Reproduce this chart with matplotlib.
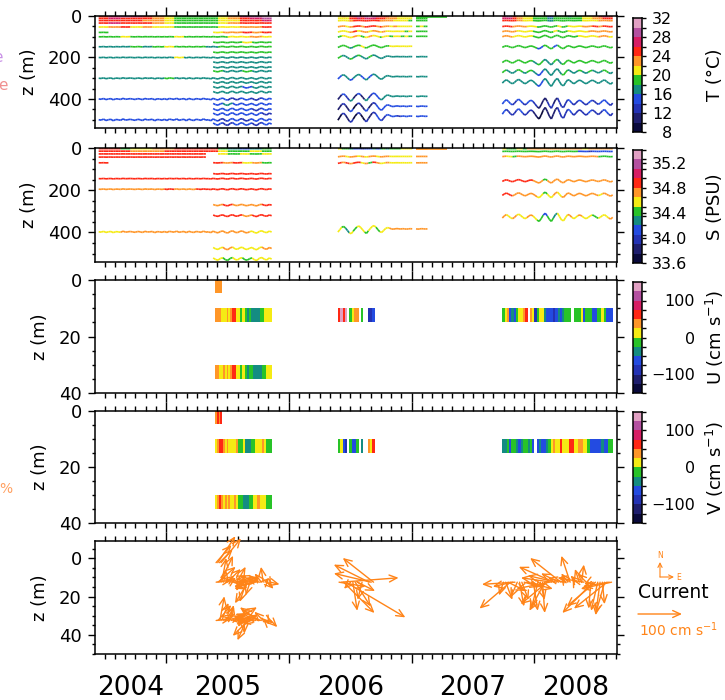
import numpy as np
import matplotlib
matplotlib.use("Agg")
import matplotlib.pyplot as plt
from matplotlib.colors import ListedColormap, BoundaryNorm
from matplotlib.collections import LineCollection
from matplotlib.ticker import MultipleLocator
from matplotlib.transforms import blended_transform_factory

nan = np.nan
plt.rcParams['font.family'] = ['DejaVu Sans']

# ====================== DATA ======================
years = [2004, 2005, 2006, 2007, 2008]
x_range = [2004.42, 2008.675]

# colour scales
T_levels = [8, 10, 12, 14, 16, 18, 20, 22, 24, 26, 28, 30, 32]
T_ticks = [8, 12, 16, 20, 24, 28, 32]
S_levels = [33.6, 33.75, 33.9, 34.05, 34.2, 34.35, 34.5, 34.65, 34.8, 34.95, 35.1, 35.25, 35.4]
S_ticks = [33.6, 34.0, 34.4, 34.8, 35.2]
UV_levels = [-150, -125, -100, -75, -50, -25, 0, 25, 50, 75, 100, 125, 150]
UV_ticks = [-100, 0, 100]

# deployments (decimal years)
span_2005 = [2004.45, 2005.86]
span_2005_dense = [2005.383, 2005.86]
span_2006 = [2006.40, 2007.13]
span_2006_top = [2007.04, 2007.29]
span_2008 = [2007.74, 2008.64]

# mooring vertical excursion (m, referred to 500 m)
disp_2005 = [0, 2, -3, 4, 0, -2, 5, -1, 0, 3, -4, 2, 0, -2, 1, 3, -2, 0, 4, -3,
             1, 0, -2, 5, -1, 0, 3, -2, 4, -3, 0, 2, -4, 3, 0, -2, 5, -3, 1, 4,
             -2, 0, 3, -4, 2, 0, 5,
             -4, 3, 6, -2, -5, 4, 7, -2, -6, 3, 5, -3, -5, 4, 6, -1, -4, 5, 7,
             -3, -6, 2, 5, -4, 1]
disp_2005_dense = [-4, 3, 6, -2, -5, 4, 7, -2, -6, 3, 5, -3, -5, 4, 6, -1, -4, 5,
                   7, -3, -6, 2, 5, -4, 1]
disp_2006 = [20, 5, -10, -15, -5, 10, 25, 30, 15, 0, -12, -18, -8, 6, 20, 28, 12,
             -2, -15, -20, -10, 5, 18, 22, 10, -2, -8, -5, 0, 2, 0, -2, 0, 1, -1,
             0, 2, 0, -1, 0, 1, 0, 2, 0, -1, 0, 1, 0]
disp_2006_top = [0, 0, 0, 0, 0, 0, 0]
disp_2008 = [10, -5, -15, -5, 8, 15, 5, -10, -18, -8, 5, 15, 8, -5, -12, -5, 10,
             25, 35, 15, -10, -25, -5, 20, 35, 10, -15, -25, 0, 25, 30, 5, -15,
             -10, 5, 15, 5, -8, -12, -3, 8, 15, 6, -5, -12, -6, 5, 12, 4, -8,
             -14, -2, 10, 18, 5]

# ---- temperature (deg C), keyed by nominal depth (m)
T_2005 = {
    3:   [25, 27, 29, 27, 25, 23, 21, 19, 19, 19, 19, 21, 23, 27, 29, 31],
    12:  [25, 27, 25, 25, 25, 23, 21, 19, 19, 19, 19, 21, 23, 25, 27, 29],
    22:  [25, 25, 25, 25, 23, 23, 21, 19, 19, 19, 19, 21, 21, 25, 25, 27],
    34:  [25, 27, 25, 25, 25, 23, 21, 19, 19, 19, 19, 21, 23, 25, 25, 25],
    53:  [21, 23, 25, 21, 23, 21, 21, 19, 19, 19, 19, 21, 21, 23, 23, 25],
    79:  [19, nan, nan, nan, nan, nan, nan, nan, nan, nan, nan, nan, nan, nan, nan, nan],
    100: [19, 19, 21, 19, 19, 19, 19, 21, 19, 19, 19, 19, 21, 21, 23, 21],
    148: [17, 17, 17, 19, 17, 19, 21, 19, 19, 19, 17, 19, 19, 19, 19, 19],
    200: [17, 17, 17, 17, 17, 17, 17, 21, 17, 17, 17, 17, 17, 17, 17, 17],
    300: [17, 17, 17, 17, 17, 17, 19, 17, 17, 17, 17, 17, 17, 17, 17, 17],
    400: [15, 15, 15, 15, 15, 15, 15, 15, 15, 15, 15, 15, 13, 15, 13, 15],
    500: [15, 15, 15, 15, 15, 15, 15, 15, 15, 15, 15, 13, 15, 13, 15, 15],
}
T_2005_dense = {
    79:  [21, 23, 23, 25, 23, 25],
    127: [19, 19, 19, 21, 19, 19],
    175: [19, 19, 19, 19, 19, 19],
    223: [17, 17, 17, 17, 17, 17],
    247: [17, 17, 17, 17, 17, 17],
    266: [19, 17, 17, 19, 17, 17],
    320: [17, 17, 17, 17, 17, 17],
    343: [17, 17, 17, 15, 17, 17],
    367: [17, 17, 17, 17, 17, 17],
    425: [15, 17, 15, 15, 15, 15],
    450: [15, 15, 15, 15, 13, 15],
    472: [15, 15, 15, 15, 15, 13],
    520: [15, 13, 15, 15, 13, 15],
}
T_2006 = {
    3:   [21, 23, 21, 25, 27, 29, 27, 29, 31, 29, 27, 25, 25, 25, 23, 23, 21, 21, 21, 21, nan, 19, 19, 19],
    12:  [21, 21, 21, 25, 25, 27, 25, 27, 27, 27, 25, 25, 25, 23, 23, 23, 21, 21, 21, 21, nan, 19, 19, 19],
    22:  [21, 21, 21, 23, 25, 25, 25, 25, 25, 25, 25, 23, 23, 23, 23, 21, 21, 21, 21, 19, nan, 19, 19, 19],
    50:  [23, 23, 21, 23, 25, 25, 23, 25, 25, 25, 23, 25, 23, 23, 21, 23, 21, 21, 21, 21, nan, 19, 21, 19],
    74:  [21, 21, 21, 23, 25, 21, 23, 23, 21, 23, 23, 21, 23, 21, 21, 21, 21, 21, 19, 21, nan, 19, 19, 19],
    98:  [19, 21, 21, 21, 23, 21, 19, 21, 23, 21, 21, 19, 21, 21, 19, 21, 21, 19, 21, 19, nan, 19, 19, 19],
    146: [19, 19, 19, 17, 19, 19, 21, 19, 19, 19, 19, 19, 19, 19, 21, 21, 21, 21, 21, 21, nan, nan, nan, nan],
    196: [19, 17, 17, 19, 17, 19, 17, 17, 19, 17, 17, 17, 17, 17, 17, 17, 17, 17, 17, 17, nan, 17, 17, 17],
    292: [15, 17, 17, 15, 17, 17, 15, 17, 15, 17, 17, 17, 17, 17, 17, 17, 17, 17, 17, 17, nan, 17, 17, 17],
    387: [11, 15, 13, 17, 11, 15, 11, 17, 13, 15, 15, 17, 17, 17, 17, 17, 17, 17, 17, 17, nan, 17, 17, 17],
    435: [11, 13, 11, 15, 9, 13, 11, 15, 11, 13, 15, 15, 15, 15, 15, 15, 15, 15, 15, 15, nan, 15, 15, 15],
    483: [9, 13, 11, 13, 9, 13, 9, 13, 11, 13, 15, 15, 13, 15, 15, 15, 13, 15, 15, 15, nan, 15, 15, 15],
}
T_2006_top = {3: [19, 19, 19, 19, 19, 19]}
T_2008 = {
    3:   [27, 29, 25, 23, 21, 21, 19, 19, 19, 15, 19, 19, 19, 17, 19, 19, 21, 21, 23, 25, 27, 25],
    12:  [27, 27, 25, 23, 21, 21, 19, 19, 19, 17, 19, 19, 19, 19, 19, 19, 21, 21, 23, 23, 25, 25],
    22:  [25, 25, 25, 23, 21, 21, 19, 19, 19, 17, 19, 19, 19, 19, 19, 19, 21, 21, 21, 23, 23, 23],
    50:  [25, 25, 23, 23, 23, 21, 21, 19, 19, 19, 19, 21, 19, 21, 21, 21, 23, 23, 25, 23, 25, 25],
    74:  [23, 23, 23, 21, 21, 21, 19, 19, 19, 19, 21, 19, 19, 21, 21, 21, 21, 23, 23, 23, 23, 23],
    98:  [23, 23, 21, 21, 21, 21, 19, 19, 19, 19, 19, 19, 19, 19, 19, 21, 21, 21, 21, 23, 23, 21],
    148: [19, 19, 19, 19, 19, 19, 19, 15, 19, 19, 15, 19, 19, 19, 19, 19, 19, 19, 19, 19, 19, 19],
    220: [19, 19, 19, 19, 19, 19, 17, 19, 17, 17, 19, 17, 19, 19, 19, 19, 19, 19, 19, 19, 19, 19],
    268: [19, 17, 17, 19, 17, 19, 17, 15, 17, 17, 17, 17, 19, 17, 17, 19, 17, 19, 17, 17, 19, 17],
    317: [17, 17, 17, 17, 17, 17, 17, 15, 17, 17, 17, 17, 17, 17, 17, 17, 17, 17, 17, 17, 17, 17],
    416: [15, 15, 13, 15, 13, 15, 13, 11, 11, 13, 11, 13, 13, 15, 13, 15, 13, 15, 13, 15, 15, 13],
    464: [15, 13, 13, 15, 13, 13, 11, 9, 11, 11, 11, 13, 13, 15, 13, 13, 13, 15, 13, 13, 15, 13],
}

# ---- salinity (PSU)
S_2005 = {
    3:   [34.9, 34.9, 34.4, 34.6, 34.6, 34.7, 34.7, 34.9, 34.9, 34.9, 34.9, 34.4, 34.3, 34.1, 34.3, 34.4],
    15:  [34.9, 34.9, 34.9, 34.7, 34.7, 34.7, 34.9, 34.9, 34.9, 34.9, 34.9, 34.6, 34.4, 34.4, 34.6, 34.4],
    28:  [34.9, 34.9, 34.9, 34.9, 34.9, 34.9, 34.9, 34.9, 34.9, 34.9, nan, 34.6, 34.4, 34.6, 34.4, 34.6],
    43:  [34.9, 34.9, 34.9, 34.9, 34.9, 34.9, 34.9, 34.9, 34.9, 34.9, nan, nan, nan, nan, nan, nan],
    70:  [34.9, nan, nan, nan, nan, nan, nan, nan, nan, nan, nan, nan, nan, nan, nan, nan],
    145: [34.9, 34.9, 34.9, 34.9, 34.9, 34.9, 34.9, 34.9, 34.9, 34.9, 34.9, 34.9, 34.9, 34.9, 34.9, 34.9],
    195: [34.7, 34.7, 34.7, 34.7, 34.7, 34.7, 34.9, 34.7, 34.7, 34.9, 34.9, 34.9, 34.9, 34.9, 34.9, 34.9],
    397: [34.6, 34.6, 34.7, 34.7, 34.7, 34.7, 34.7, 34.7, 34.7, 34.7, 34.7, 34.7, 34.7, 34.7, 34.6, 34.6],
}
S_2005_dense = {
    70:  [34.9, 34.7, 34.9, 34.6, 34.7, 34.4],
    122: [34.9, 34.9, 34.9, 34.9, 34.9, 34.9],
    270: [34.7, 34.9, 34.7, 34.7, 34.7, 34.9],
    320: [34.9, 34.9, 34.9, 34.7, 34.9, 34.9],
    475: [34.6, 34.7, 34.6, 34.6, 34.6, 34.7],
    525: [34.6, 34.4, 34.6, 34.4, 34.6, 34.6],
}
S_2006 = {
    3:   [34.6, 34.4, 34.4, 34.3, 34.1, 34.1, 34.0, 34.1, 34.1, 34.3, 34.1, 34.3, 34.4, 34.3, 34.4, 34.4, 34.4, 34.6, 34.6, 34.6, nan, 34.7, 34.7, 34.7],
    40:  [34.7, 34.7, 34.6, 34.7, 34.7, 34.6, 34.7, 34.6, 34.7, 34.7, 34.6, 34.7, 34.7, 34.7, 34.6, 34.6, 34.6, 34.6, 34.6, 34.6, nan, 34.7, 34.7, 34.7],
    70:  [34.9, 34.7, 34.9, 34.7, 34.9, 34.9, 34.6, 34.7, 34.4, 34.9, 34.7, 34.6, 34.6, 34.7, 34.6, 34.6, 34.6, 34.6, 34.6, 34.6, nan, 34.7, 34.7, 34.7],
    383: [34.6, 34.4, 34.3, 34.6, 34.4, 34.6, 34.6, 34.4, 34.6, 34.6, 34.4, 34.6, 34.6, 34.6, 34.7, 34.7, 34.7, 34.7, 34.7, 34.7, nan, 34.7, 34.7, 34.7],
}
S_2006_top = {3: [34.7, 34.7, 34.7, 34.7, 34.7, 34.7]}
S_2008 = {
    3:   [34.6, 34.4, 34.4, 34.6, 34.4, 34.7, 34.7, 34.7, 34.7, 34.7, 34.7, 34.7, 34.7, 34.7, 34.7, 34.7, 34.6, 34.7, 34.7, 34.7, 34.7, 34.7],
    16:  [34.4, 34.4, 34.4, 34.4, 34.4, 34.4, 34.4, 34.4, 34.4, 34.4, 34.4, 34.4, 34.4, 34.4, 34.4, 34.1, 34.1, 34.0, 34.1, 34.1, 34.1, 34.1],
    40:  [34.7, 34.6, 34.4, 34.7, 34.7, 34.7, 34.7, 34.7, 34.7, 34.7, 34.7, 34.7, 34.7, 34.7, 34.7, 34.7, 34.7, 34.7, 34.7, 34.4, 34.4, 34.4],
    155: [34.9, 34.9, 34.9, 34.9, 34.9, 34.9, 34.7, 34.7, 34.4, 34.7, 34.7, 34.7, 34.7, 34.7, 34.7, 34.7, 34.7, 34.7, 34.7, 34.7, 34.7, 34.7],
    220: [34.9, 34.9, 34.7, 34.7, 34.7, 34.7, 34.7, 34.6, 34.4, 34.6, 34.7, 34.6, 34.7, 34.7, 34.7, 34.7, 34.7, 34.7, 34.7, 34.6, 34.7, 34.7],
    325: [34.7, 34.6, 34.7, 34.6, 34.6, 34.7, 34.6, 34.4, 34.1, 34.4, 34.3, 34.6, 34.6, 34.7, 34.6, 34.7, 34.6, 34.6, 34.4, 34.6, 34.6, 34.7],
}

# ---- currents (cm/s)
uv_span_2005_surf = [2005.40, 2005.455]
uv_span_2005 = [2005.40, 2005.86]
uv_span_2006 = [2006.40, 2006.70]
uv_span_2008 = [2007.74, 2008.64]
bin_surf = [0, 4.6]
bin_upper = [10, 15]
bin_lower = [30, 35]

U_2005_surf = [35, 40, 30, 45]
V_2005_surf = [40, 60, 30, 55]
U_2005_upper = [35, 40, 30, 10, 5, 20, 30, 15, 35, 60, 55, 20, 10, -10, 10, 5, -15, -30,
                -10, -40, -45, -35, -40, -30, -15, -5, 10, 15, 5, 20]
V_2005_upper = [5, 35, 60, 55, 30, 15, 30, 10, 15, 5, 10, 35, -10, -20, -15, 0, -45, -48,
                -30, -15, -10, 5, 15, 10, 20, 35, 10, -15, -10, -5]
U_2005_lower = [35, 30, 10, 15, 25, 20, 30, 10, 35, 55, 50, 20, 10, -5, 15, 0, -20, -35,
                -15, -25, -45, -45, -40, -40, -35, -20, -5, 5, 10, 15]
V_2005_lower = [5, 35, 55, 40, 15, 30, 10, 35, 15, 10, 30, 5, -10, -15, -5, -30, -45, -35,
                -10, -5, 10, 15, 30, 25, 10, 20, 5, -10, -5, -15]
U_2006_upper = [60, 130, 70, 135, nan, -15, 10, 35, 40, nan, -10, nan, nan, -80, -85, -70]
V_2006_upper = [-10, 10, -70, -80, nan, -15, -65, -55, -20, nan, -40, nan, nan, 40, 20, 55]
U_2008_upper = [-10, 15, 40, -70, -45, -75, -15, 10, 15, 35, 60, nan, 30, 10, -90, -15,
                10, 5, -35, -60, -75, -70, -80, -65, -40, -70, -35, -10, -15, -20, nan,
                -5, -15, -10, 5, -60, -20, -10, -5, -70, -65, -15, -10, 5, -20, -75, -60, -70]
V_2008_upper = [-30, -40, -20, -60, -10, -5, -35, -55, -40, -10, -15, -30, -10, -65, nan,
                -60, -40, -70, -65, -50, -15, 10, 35, 15, 20, 55, 10, 15, 20, 60, 65, 10,
                15, 30, 40, 10, 20, -5, -60, -70, -55, -65, -75, -50, -70, -60, -10, -15]

# ====================== STYLE ======================
PALETTE = ['#0a0a3c', '#1e1e6e', '#2332b4', '#234be1', '#148c82', '#28c328',
           '#f5eb14', '#ff9628', '#ff2814', '#d71e64', '#b450a0', '#e1a0c3']
CMAP = ListedColormap(PALETTE)
ORANGE = '#ff8418'
W, H = 725, 700
fig = plt.figure(figsize=(W / 100, H / 100), dpi=100)


def rect(l, t, r, b):
    return [l / W, 1 - b / H, (r - l) / W, (b - t) / H]


panel_rows = [(16, 128), (148, 262), (280, 393), (411, 523), (541, 654)]
cbar_rows = [(18, 132), (150, 263), (282, 393), (412, 523)]
axes = [fig.add_axes(rect(95, t, 617, b)) for t, b in panel_rows]
caxes = [fig.add_axes(rect(633, t, 642, b)) for t, b in cbar_rows]

normT = BoundaryNorm(T_levels, CMAP.N)
normS = BoundaryNorm(S_levels, CMAP.N)
normUV = BoundaryNorm(UV_levels, CMAP.N)


def draw_records(ax, span, disp, records, norm, zref=500.0):
    disp = np.asarray(disp, float)
    t = np.linspace(span[0], span[1], len(disp))
    mid = 0.5 * (t[1:] + t[:-1])
    frac = (mid - span[0]) / (span[1] - span[0])
    for z0, vals in records.items():
        vals = np.asarray(vals, float)
        z = z0 + disp * (z0 / zref)
        pts = np.column_stack([t, z])
        segs = np.stack([pts[:-1], pts[1:]], axis=1)
        idx = np.minimum((frac * len(vals)).astype(int), len(vals) - 1)
        c = vals[idx]
        ok = np.isfinite(c)
        lc = LineCollection(segs[ok], cmap=CMAP, norm=norm, linewidths=1.2)
        lc.set_array(c[ok])
        ax.add_collection(lc)


def draw_bar(ax, span, zbin, vals, norm):
    v = np.ma.masked_invalid(np.asarray(vals, float))
    xe = np.linspace(span[0], span[1], len(v) + 1)
    ax.pcolormesh(xe, zbin, v[None, :], cmap=CMAP, norm=norm, shading='flat')


def style_axis(ax, ylim, ymaj, ymin):
    ax.set_xlim(x_range)
    ax.set_ylim(ylim)
    ax.xaxis.set_major_locator(MultipleLocator(1))
    ax.xaxis.set_minor_locator(MultipleLocator(1 / 12))
    ax.yaxis.set_major_locator(MultipleLocator(ymaj))
    ax.yaxis.set_minor_locator(MultipleLocator(ymin))
    ax.tick_params(axis='x', which='both', direction='out', top=True, bottom=True,
                   labelbottom=False, width=1.0)
    ax.tick_params(axis='x', which='major', length=6.5)
    ax.tick_params(axis='x', which='minor', length=3.5)
    ax.tick_params(axis='y', which='both', direction='out', left=True, right=True,
                   width=1.0, labelsize=13, pad=4.5)
    ax.tick_params(axis='y', which='major', length=5)
    ax.tick_params(axis='y', which='minor', length=2.5)
    for s in ax.spines.values():
        s.set_linewidth(1.1)
    ax.set_ylabel('z (m)', fontsize=13, labelpad=7)


# ---- panel 1: temperature
ax = axes[0]
draw_records(ax, span_2005, disp_2005, T_2005, normT)
draw_records(ax, span_2005_dense, disp_2005_dense, T_2005_dense, normT)
draw_records(ax, span_2006, disp_2006, T_2006, normT)
draw_records(ax, span_2006_top, disp_2006_top, T_2006_top, normT)
draw_records(ax, span_2008, disp_2008, T_2008, normT)
style_axis(ax, (540, 0), 200, 50)

# ---- panel 2: salinity
ax = axes[1]
draw_records(ax, span_2005, disp_2005, S_2005, normS)
draw_records(ax, span_2005_dense, disp_2005_dense, S_2005_dense, normS)
draw_records(ax, span_2006, disp_2006, S_2006, normS)
draw_records(ax, span_2006_top, disp_2006_top, S_2006_top, normS)
draw_records(ax, span_2008, disp_2008, S_2008, normS)
style_axis(ax, (540, 0), 200, 50)

# ---- panel 3: U
ax = axes[2]
draw_bar(ax, uv_span_2005_surf, bin_surf, U_2005_surf, normUV)
draw_bar(ax, uv_span_2005, bin_upper, U_2005_upper, normUV)
draw_bar(ax, uv_span_2005, bin_lower, U_2005_lower, normUV)
draw_bar(ax, uv_span_2006, bin_upper, U_2006_upper, normUV)
draw_bar(ax, uv_span_2008, bin_upper, U_2008_upper, normUV)
style_axis(ax, (40, 0), 20, 5)

# ---- panel 4: V
ax = axes[3]
draw_bar(ax, uv_span_2005_surf, bin_surf, V_2005_surf, normUV)
draw_bar(ax, uv_span_2005, bin_upper, V_2005_upper, normUV)
draw_bar(ax, uv_span_2005, bin_lower, V_2005_lower, normUV)
draw_bar(ax, uv_span_2006, bin_upper, V_2006_upper, normUV)
draw_bar(ax, uv_span_2008, bin_upper, V_2008_upper, normUV)
style_axis(ax, (40, 0), 20, 5)

# ---- panel 5: current vectors
ax5 = axes[4]
style_axis(ax5, (50, -9), 20, 5)
K = 0.44  # display pixels per cm/s
ARROW = dict(arrowstyle='->,head_length=0.55,head_width=0.25', color=ORANGE,
             lw=1.0, shrinkA=0, shrinkB=0)


def draw_vectors(ax, span, zbin, u, v):
    u = np.asarray(u, float)
    v = np.asarray(v, float)
    xe = np.linspace(span[0], span[1], len(u) + 1)
    tc = 0.5 * (xe[1:] + xe[:-1])
    z0 = 0.5 * (zbin[0] + zbin[1])
    inv = ax.transData.inverted()
    for t, uu, vv in zip(tc, u, v):
        if not (np.isfinite(uu) and np.isfinite(vv)):
            continue
        p0 = ax.transData.transform((t, z0))
        tip = inv.transform(p0 + K * np.array([uu, vv]))
        ax.annotate('', xy=tip, xytext=(t, z0), arrowprops=ARROW,
                    annotation_clip=False)


draw_vectors(ax5, uv_span_2005_surf, bin_surf, U_2005_surf, V_2005_surf)
draw_vectors(ax5, uv_span_2005, bin_upper, U_2005_upper, V_2005_upper)
draw_vectors(ax5, uv_span_2005, bin_lower, U_2005_lower, V_2005_lower)
draw_vectors(ax5, uv_span_2006, bin_upper, U_2006_upper, V_2006_upper)
draw_vectors(ax5, uv_span_2008, bin_upper, U_2008_upper, V_2008_upper)

# year labels centred in each year interval
tr = blended_transform_factory(ax5.transData, fig.transFigure)
for y in years:
    lo, hi = max(y, x_range[0]), min(y + 1, x_range[1])
    ax5.text(0.5 * (lo + hi), 1 - 688 / H, str(y), transform=tr, ha='center',
             va='center', fontsize=19)


# ---- colour bars
def draw_cbar(cax, levels, ticks, fmt, norm, right_px):
    levels = np.asarray(levels, float)
    centers = 0.5 * (levels[1:] + levels[:-1])
    cax.pcolormesh([0, 1], levels, centers[:, None], cmap=CMAP, norm=norm)
    cax.set_xlim(0, 1)
    cax.set_ylim(levels[0], levels[-1])
    cax.set_xticks([])
    cax.yaxis.tick_right()
    cax.set_yticks(levels, minor=True)
    cax.set_yticks(ticks)
    cax.set_yticklabels([fmt(t) for t in ticks])
    cax.tick_params(axis='y', which='both', direction='out', length=3, width=1.0,
                    labelsize=11.5, pad=(right_px - 642 - 4) * 0.72)
    for lbl in cax.get_yticklabels():
        lbl.set_horizontalalignment('right')
    for s in cax.spines.values():
        s.set_linewidth(1.1)


draw_cbar(caxes[0], T_levels, T_ticks, lambda t: f'{t:d}', normT, 672)
draw_cbar(caxes[1], S_levels, S_ticks, lambda t: f'{t:.1f}', normS, 687)
draw_cbar(caxes[2], UV_levels, UV_ticks, lambda t: f'{t:d}'.replace('-', '\u2212'), normUV, 695)
draw_cbar(caxes[3], UV_levels, UV_ticks, lambda t: f'{t:d}'.replace('-', '\u2212'), normUV, 695)

cb_labels = ['T (°C)', 'S (PSU)', r'U (cm s$^{-1}$)', r'V (cm s$^{-1}$)']
for (t, b), lab in zip(cbar_rows, cb_labels):
    fig.text(715 / W, 1 - 0.5 * (t + b) / H, lab, rotation=90, ha='center',
             va='center', fontsize=13)

# ---- vector legend
fp = 'figure pixels'
SMALL = dict(arrowstyle='->,head_length=0.3,head_width=0.15', color=ORANGE, lw=0.8,
             shrinkA=0, shrinkB=0)
ax5.annotate('', xy=(660, H - 562), xytext=(660, H - 577), xycoords=fp,
             textcoords=fp, arrowprops=SMALL, annotation_clip=False)
ax5.annotate('', xy=(674, H - 577), xytext=(660, H - 577), xycoords=fp,
             textcoords=fp, arrowprops=SMALL, annotation_clip=False)
fig.text(660 / W, 1 - 556 / H, 'N', color=ORANGE, fontsize=5.5, ha='center', va='center')
fig.text(676 / W, 1 - 577 / H, 'E', color=ORANGE, fontsize=5.5, ha='left', va='center')
fig.text(638 / W, 1 - 592 / H, 'Current', fontsize=13.5, ha='left', va='center')
ax5.annotate('', xy=(638 + 100 * K, H - 614), xytext=(638, H - 614), xycoords=fp,
             textcoords=fp, arrowprops=dict(ARROW, lw=1.0), annotation_clip=False)
fig.text(639 / W, 1 - 630 / H, r'100 cm s$^{-1}$', color=ORANGE, fontsize=10,
         ha='left', va='center')

# clipped remnants at the left edge
fig.text(3 / W, 1 - 58 / H, 'e', color='#c890e6', fontsize=11, ha='right', va='center')
fig.text(8 / W, 1 - 85 / H, 'e', color='#f09090', fontsize=11, ha='right', va='center')
fig.text(12 / W, 1 - 489 / H, '%', color='#ffa060', fontsize=10, ha='right', va='center')

fig.savefig('out.png', dpi=100)
